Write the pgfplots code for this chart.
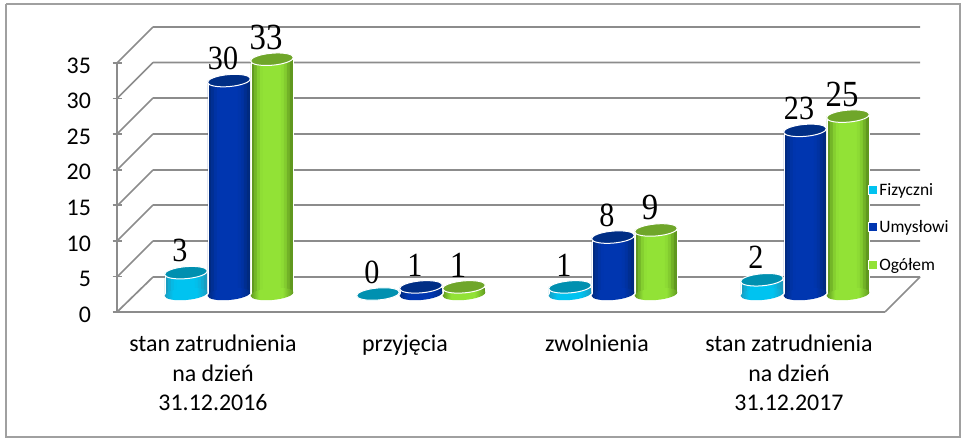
\documentclass[border=0pt]{standalone}
\usepackage{fontspec}
\setmainfont{Carlito}
\newfontfamily\lab{Liberation Serif}
\usepackage{pgfplots}
\usepackage{pgfplotstable}
\pgfplotsset{compat=1.18}
\usetikzlibrary{shapes.geometric}

\definecolor{gridgray}{HTML}{8C8C8C}
\definecolor{framegray}{HTML}{A0A0A0}
% side edge, side middle, cap
\definecolor{fizE}{HTML}{1A9CC0}\definecolor{fizM}{HTML}{00C3F0}\definecolor{fizC}{HTML}{0090B0}
\definecolor{umyE}{HTML}{002A80}\definecolor{umyM}{HTML}{0036B0}\definecolor{umyC}{HTML}{002E85}
\definecolor{ogoE}{HTML}{60981F}\definecolor{ogoM}{HTML}{92E236}\definecolor{ogoC}{HTML}{6FA62A}
% same gradient as the slices, for the rounded foot
\pgfdeclarehorizontalshading{fizS}{100bp}{color(0bp)=(fizE); color(25bp)=(fizE); color(35bp)=(fizM); color(62bp)=(fizM); color(75bp)=(fizE); color(100bp)=(fizE)}
\pgfdeclarehorizontalshading{umyS}{100bp}{color(0bp)=(umyE); color(25bp)=(umyE); color(35bp)=(umyM); color(62bp)=(umyM); color(75bp)=(umyE); color(100bp)=(umyE)}
\pgfdeclarehorizontalshading{ogoS}{100bp}{color(0bp)=(ogoE); color(25bp)=(ogoE); color(35bp)=(ogoM); color(62bp)=(ogoM); color(75bp)=(ogoE); color(100bp)=(ogoE)}

\pgfplotstableread{
x fiz umy ogo
0 3 30 33
1 0 1 1
2 1 8 9
3 2 23 25
}\stan

% one vertical slice of a cylinder: #1 column, #2 colours, #3 shift of the bar, #4 offset, #5 mix
\newcommand{\slice}[5]{
  \addplot[ybar, draw=none, fill=#2M!#5!#2E, bar width=3.4bp, bar shift=#3+#4, forget plot]
    table[x=x, y=#1] {\stan};
}
% #1 column, #2 colours, #3 bar shift
\newcommand{\cylinder}[3]{
  % bottom of the cylinder
  \addplot[ybar, draw=none, bar width=0.1bp, bar shift=#3, forget plot,
    nodes near coords={},
    every node near coord/.style={ellipse, anchor=center, inner sep=0pt, xshift=#3,
      minimum width=43bp, minimum height=12bp, rotate=5, shading=#2S}]
    table[x=x, y expr=0] {\stan};
  % side of the cylinder, slices from edge to edge
  \slice{#1}{#2}{#3}{-19.5bp}{0}
  \slice{#1}{#2}{#3}{-16.5bp}{40}
  \slice{#1}{#2}{#3}{-13.5bp}{75}
  \slice{#1}{#2}{#3}{-10.5bp}{95}
  \slice{#1}{#2}{#3}{-7.5bp}{100}
  \slice{#1}{#2}{#3}{-4.5bp}{100}
  \slice{#1}{#2}{#3}{-1.5bp}{100}
  \slice{#1}{#2}{#3}{1.5bp}{100}
  \slice{#1}{#2}{#3}{4.5bp}{100}
  \slice{#1}{#2}{#3}{7.5bp}{100}
  \slice{#1}{#2}{#3}{10.5bp}{90}
  \slice{#1}{#2}{#3}{13.5bp}{70}
  \slice{#1}{#2}{#3}{16.5bp}{35}
  \slice{#1}{#2}{#3}{19.5bp}{0}
  % white edge and top
  \addplot[ybar, bar width=42bp, bar shift=#3, forget plot, draw=white, fill=none, line width=0.5bp,
    nodes near coords={},
    every node near coord/.style={ellipse, anchor=center, inner sep=0pt, xshift=#3,
      minimum width=43bp, minimum height=12bp, rotate=5,
      fill=#2C, draw=white, line width=1bp}]
    table[x=x, y=#1] {\stan};
}
% #1 column, #2 bar shift, #3 font size
\newcommand{\labels}[3]{
  \addplot[ybar, draw=none, fill=none, bar width=1bp, bar shift=#2, forget plot,
    nodes near coords,
    every node near coord/.style={anchor=center, inner sep=0pt, black,
      xshift=#2-6bp, yshift=22bp, transform shape, xscale=0.89,
      font=\lab\fontsize{#3}{#3}\selectfont}]
    table[x=x, y=#1] {\stan};
}

\begin{document}
\begin{tikzpicture}
\path[use as bounding box] (0,0) rectangle (965bp,445bp);
% frame and back wall, in picture pixels
\begin{axis}[at={(0,0)}, anchor=south west, width=965bp, height=445bp, scale only axis,
    xmin=0, xmax=965, ymin=0, ymax=445, y dir=reverse, hide axis, clip=false,
    unbounded coords=jump]
\addplot[framegray, line width=1.4bp] coordinates {(6,4) (960,4) (960,437) (6,437) (6,4)};
\addplot[gridgray, line width=1.7bp] coordinates {
  (153,27)(920,27) (nan,nan) (153,62.5)(920,62.5) (nan,nan)
  (153,98)(920,98) (nan,nan) (153,134)(920,134) (nan,nan)
  (153,170)(920,170) (nan,nan) (153,205)(920,205) (nan,nan)
  (153,241)(920,241) (nan,nan) (153,277)(920,277) (nan,nan)
  (117,63)(153,27) (nan,nan) (117,98.5)(153,62.5) (nan,nan)
  (117,134)(153,98) (nan,nan) (117,170)(153,134) (nan,nan)
  (117,206)(153,170) (nan,nan) (117,241)(153,205) (nan,nan)
  (117,277)(153,241) (nan,nan) (117,312)(153,277) (nan,nan)
  (885,312)(920,277)
};
\end{axis}
% the chart itself: y=0 of the data is the floor line where the bars stand
\begin{axis}[at={(117bp,133bp)}, anchor=south west, width=768bp, height=249bp, scale only axis,
    xmin=-0.5, xmax=3.5, ymin=-2.53, ymax=32.47, clip=false,
    axis x line=bottom, axis y line=left, axis line style={gridgray, line width=1.7bp, -},
    /pgf/number format/assume math mode=true,
    xtick={0,1,2,3},
    xticklabels={stan zatrudnienia\\na dzień\\31.12.2016, przyjęcia, zwolnienia,
      stan zatrudnienia\\na dzień\\31.12.2017},
    xticklabel style={align=center, font=\fontsize{24}{29.5}\selectfont, yshift=-15bp, anchor=north},
    xtick style={draw=none},
    minor xtick={-0.5,0.5,1.5,2.5,3.5},
    minor tick length=7bp,
    minor x tick style={gridgray, line width=1.7bp},
    ytick={-2.53,2.47,7.47,12.47,17.47,22.47,27.47,32.47},
    yticklabels={0,5,10,15,20,25,30,35},
    yticklabel style={font=\fontsize{24}{26}\selectfont, xshift=-18bp, yshift=-2.5bp},
    major tick length=9bp,
    ytick style={gridgray, line width=1.7bp},
    legend style={at={(axis description cs:0.977,0.34)}, anchor=west, draw=none, fill=none,
      font=\fontsize{17.5}{20}\selectfont, row sep=20bp, inner sep=0pt,
      legend cell align=left},
    legend image code/.code={
      \draw[#1, draw=white, line width=0.8bp] (0bp,-4.5bp) rectangle (9bp,4.5bp);},
    ]
\cylinder{fiz}{fiz}{-27bp}
\cylinder{umy}{umy}{16bp}
\cylinder{ogo}{ogo}{59bp}
\labels{fiz}{-27bp}{34}
\labels{umy}{16bp}{34}
\labels{ogo}{59bp}{37}
\addlegendimage{fill=fizM}\addlegendentry{Fizyczni}
\addlegendimage{fill=umyM}\addlegendentry{Umysłowi}
\addlegendimage{fill=ogoM}\addlegendentry{Ogółem}
\end{axis}
\end{tikzpicture}
\end{document}
